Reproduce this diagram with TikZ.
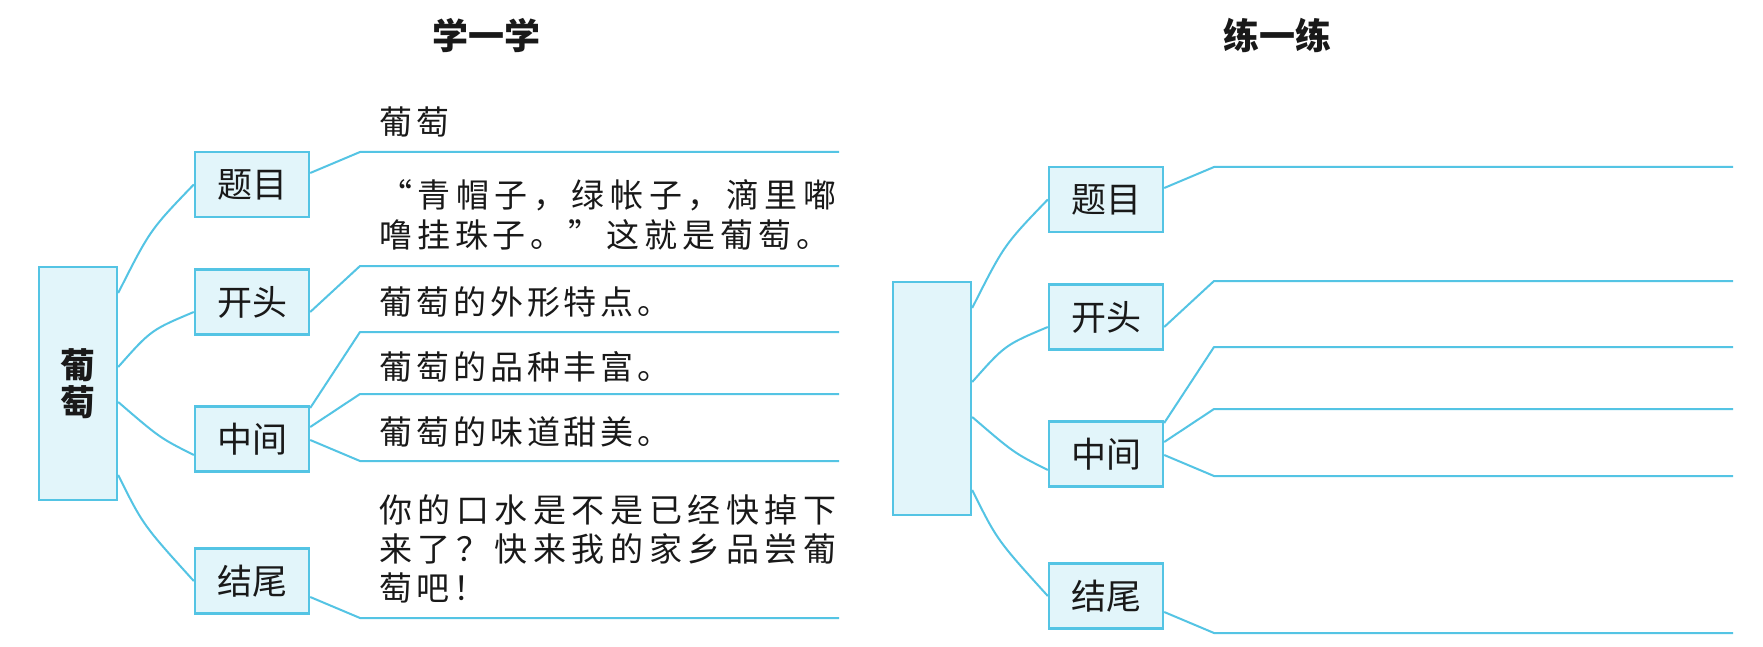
\documentclass[tikz,border=0pt]{standalone}
\usepackage{fontspec}
\newfontfamily\cjk{Noto Sans CJK SC}
\newfontfamily\cjkls{Noto Sans CJK SC}[LetterSpace=12]
\definecolor{lineblue}{RGB}{84,196,228}
\definecolor{boxfill}{RGB}{226,245,250}
\definecolor{ink}{RGB}{25,25,25}
\def\jend{JEND}
\newcommand\jline[2]{\makebox[#1][s]{\jfirst#2\jend}}
\def\jfirst#1{#1\jaux}
\def\jaux#1{\ifx#1\jend\else\hfill#1\expandafter\jaux\fi}
\tikzset{
  conn/.style={draw=lineblue, line width=2pt, line join=round},
  subbox/.style={draw=lineblue, fill=boxfill, line width=2.4pt, minimum width=114pt, minimum height=65pt, inner sep=0pt, text=ink, font=\cjk\fontsize{35}{40}\selectfont},
  mainbox/.style={draw=lineblue, fill=boxfill, line width=2.4pt, minimum width=78pt, minimum height=233pt, inner sep=0pt, text=ink, align=center, font=\cjk\bfseries\fontsize{35}{37}\selectfont},
  txt/.style={inner sep=0pt, anchor=west, text=ink, font=\cjkls\fontsize{33}{40}\selectfont},
  jtxt/.style={inner sep=0pt, anchor=west, text=ink, font=\cjk\fontsize{33}{40}\selectfont},
  ttl/.style={inner sep=0pt, text=ink, font=\cjk\bfseries\fontsize{36}{40}\selectfont}
}
\newcommand\drawtree[4]{%
\begin{scope}[shift={(#2,#3)}]
  \node[mainbox] (#1m) at (78,383.5) {#4};
  \node[subbox] (#1a) at (252,184.5) {题目};
  \node[subbox] (#1b) at (252,302) {开头};
  \node[subbox] (#1c) at (252,439) {中间};
  \node[subbox] (#1d) at (252,581) {结尾};
  \coordinate (#1k1) at (360,152);
  \coordinate (#1k2) at (360,266);
  \coordinate (#1k3) at (360,332);
  \coordinate (#1k4) at (360,394);
  \coordinate (#1k5) at (360,461);
  \coordinate (#1k6) at (360,618);
  \coordinate (#1e1) at (\treeend,152);
  \coordinate (#1e2) at (\treeend,266);
  \coordinate (#1e3) at (\treeend,332);
  \coordinate (#1e4) at (\treeend,394);
  \coordinate (#1e5) at (\treeend,461);
  \coordinate (#1e6) at (\treeend,618);
  \draw[conn] ([yshift=90.5pt]#1m.east) .. controls (150,230) .. (#1a.west);
  \draw[conn] ([yshift=16.5pt]#1m.east) .. controls (151,330) .. ([yshift=-10pt]#1b.west);
  \draw[conn] ([yshift=-18.5pt]#1m.east) .. controls (160,438) .. ([yshift=-16pt]#1c.west);
  \draw[conn] ([yshift=-91.5pt]#1m.east) .. controls (143,525) .. (#1d.west);
  \draw[conn] ([yshift=11.5pt]#1a.east) -- (#1k1) -- (#1e1);
  \draw[conn] ([yshift=-10pt]#1b.east) -- (#1k2) -- (#1e2);
  \draw[conn] ([yshift=31pt]#1c.east) -- (#1k3) -- (#1e3);
  \draw[conn] ([yshift=12pt]#1c.east) -- (#1k4) -- (#1e4);
  \draw[conn] ([yshift=-1pt]#1c.east) -- (#1k5) -- (#1e5);
  \draw[conn] ([yshift=-16pt]#1d.east) -- (#1k6) -- (#1e6);
\end{scope}}
\begin{document}
\begin{tikzpicture}[x=1pt,y=-1pt]
\useasboundingbox[fill=white] (0,0) rectangle (1763,647);
\node[ttl] (title1) at (486,36) {学一学};
\node[ttl] (title2) at (1277,35) {练一练};
\def\treeend{839}
\drawtree{L}{0}{0}{葡\\萄}
\def\treeend{879}
\drawtree{R}{854}{15}{}
\node[txt] (t1) at (379,122) {葡萄};
\node[jtxt] (t2) at (379,195) {\jline{457pt}{“青帽子，绿帐子，滴里嘟}};
\node[jtxt] (t3) at (379,235) {\jline{450pt}{噜挂珠子。”这就是葡萄。}};
\node[txt] (t4) at (379,302) {葡萄的外形特点。};
\node[txt] (t5) at (379,367) {葡萄的品种丰富。};
\node[txt] (t6) at (379,432) {葡萄的味道甜美。};
\node[jtxt] (t7) at (379,510) {\jline{457pt}{你的口水是不是已经快掉下}};
\node[jtxt] (t8) at (379,549) {\jline{457pt}{来了？快来我的家乡品尝葡}};
\node[txt] (t9) at (379,588) {萄吧！};
\end{tikzpicture}
\end{document}
